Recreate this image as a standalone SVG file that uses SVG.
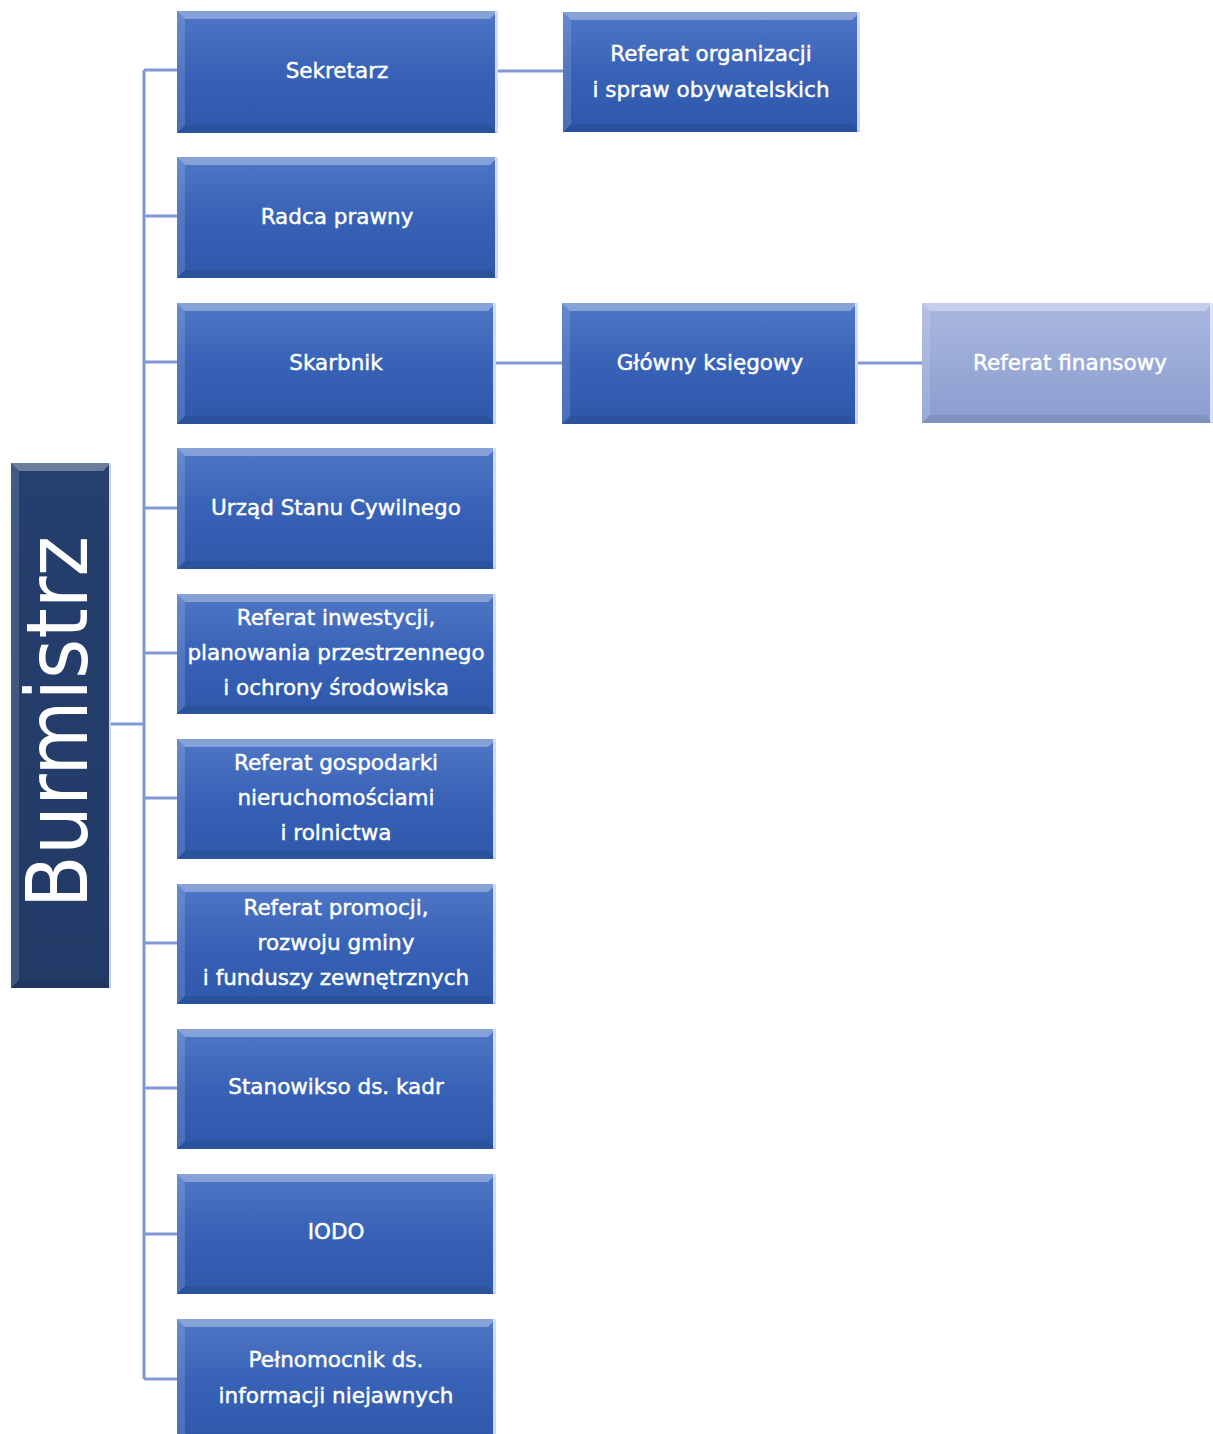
<svg xmlns="http://www.w3.org/2000/svg" width="1213" height="1434" viewBox="0 0 1213 1434">
<style>
.t{font-family:"DejaVu Sans","Liberation Sans",sans-serif;font-size:21.5px;fill:#ffffff;stroke:#ffffff;stroke-width:0.45;text-anchor:middle}
.big{font-family:"DejaVu Sans Condensed","DejaVu Sans",sans-serif;font-size:86px;fill:#ffffff;text-anchor:middle}
.c{stroke:#8199d3;stroke-width:3;fill:none}
.hi{fill:#ffffff;opacity:0.32}
.lf{fill:#ffffff;opacity:0.14}
.rt{fill:#e6eeff;opacity:0.85}
.bt{fill:#000000;opacity:0.08}
</style>
<defs>
<linearGradient id="gb" x1="0" y1="0" x2="0" y2="1">
<stop offset="0" stop-color="#4f77c6"/>
<stop offset="0.5" stop-color="#3862b6"/>
<stop offset="1" stop-color="#2d58aa"/>
</linearGradient>
<linearGradient id="gl" x1="0" y1="0" x2="0" y2="1">
<stop offset="0" stop-color="#aab7e0"/>
<stop offset="1" stop-color="#8a9dcf"/>
</linearGradient>
<linearGradient id="gd" x1="0" y1="0" x2="0" y2="1">
<stop offset="0" stop-color="#253f6e"/>
<stop offset="1" stop-color="#223a66"/>
</linearGradient>
</defs>

<g id="connectors">
<path class="c" d="M144,70 V1379"/>
<path class="c" d="M111,724 H144"/>
<path class="c" d="M144,70 H177 M144,216 H177 M144,362 H177 M144,508 H177 M144,653 H177 M144,798 H177 M144,943 H177 M144,1088 H177 M144,1234 H177 M144,1379 H177"/>
<path class="c" d="M498,71 H563"/>
<path class="c" d="M496,363 H562"/>
<path class="c" d="M858,363 H922"/>
</g>

<g id="burmistrz" transform="translate(11,463)">
<rect width="100" height="525" fill="url(#gd)"/>
<polygon class="hi" points="0,0 100,0 92,8 8,8"/>
<polygon class="lf" points="0,0 8,8 8,517 0,525"/>
<polygon class="rt" points="98,0 100,0 100,525 98,525"/>
<polygon class="bt" points="0,525 8,517 92,517 100,525"/>
<text class="big" transform="translate(76,259) rotate(-90)">Burmistrz</text>
</g>

<g id="sekretarz" transform="translate(177,11)">
<rect width="321" height="122" fill="url(#gb)"/>
<polygon class="hi" points="0,0 321,0 313,8 8,8"/>
<polygon class="lf" points="0,0 8,8 8,114 0,122"/>
<polygon class="rt" points="318,0 321,0 321,122 318,122"/>
<polygon class="bt" points="0,122 8,114 313,114 321,122"/>
<text class="t" x="160" y="67">Sekretarz</text>
</g>

<g id="radca" transform="translate(177,157)">
<rect width="321" height="121" fill="url(#gb)"/>
<polygon class="hi" points="0,0 321,0 313,8 8,8"/>
<polygon class="lf" points="0,0 8,8 8,113 0,121"/>
<polygon class="rt" points="318,0 321,0 321,121 318,121"/>
<polygon class="bt" points="0,121 8,113 313,113 321,121"/>
<text class="t" x="160" y="67">Radca prawny</text>
</g>

<g id="skarbnik" transform="translate(177,303)">
<rect width="319" height="121" fill="url(#gb)"/>
<polygon class="hi" points="0,0 319,0 311,8 8,8"/>
<polygon class="lf" points="0,0 8,8 8,113 0,121"/>
<polygon class="rt" points="316,0 319,0 319,121 316,121"/>
<polygon class="bt" points="0,121 8,113 311,113 319,121"/>
<text class="t" x="159" y="67">Skarbnik</text>
</g>

<g id="usc" transform="translate(177,448)">
<rect width="319" height="121" fill="url(#gb)"/>
<polygon class="hi" points="0,0 319,0 311,8 8,8"/>
<polygon class="lf" points="0,0 8,8 8,113 0,121"/>
<polygon class="rt" points="316,0 319,0 319,121 316,121"/>
<polygon class="bt" points="0,121 8,113 311,113 319,121"/>
<text class="t" x="159" y="67">Urząd Stanu Cywilnego</text>
</g>

<g id="inwestycje" transform="translate(177,594)">
<rect width="319" height="120" fill="url(#gb)"/>
<polygon class="hi" points="0,0 319,0 311,8 8,8"/>
<polygon class="lf" points="0,0 8,8 8,112 0,120"/>
<polygon class="rt" points="316,0 319,0 319,120 316,120"/>
<polygon class="bt" points="0,120 8,112 311,112 319,120"/>
<text class="t" x="159" y="31">Referat inwestycji,</text>
<text class="t" x="159" y="66">planowania przestrzennego</text>
<text class="t" x="159" y="101">i ochrony środowiska</text>
</g>

<g id="nieruchomosci" transform="translate(177,739)">
<rect width="319" height="120" fill="url(#gb)"/>
<polygon class="hi" points="0,0 319,0 311,8 8,8"/>
<polygon class="lf" points="0,0 8,8 8,112 0,120"/>
<polygon class="rt" points="316,0 319,0 319,120 316,120"/>
<polygon class="bt" points="0,120 8,112 311,112 319,120"/>
<text class="t" x="159" y="31">Referat gospodarki</text>
<text class="t" x="159" y="66">nieruchomościami</text>
<text class="t" x="159" y="101">i rolnictwa</text>
</g>

<g id="promocja" transform="translate(177,884)">
<rect width="319" height="120" fill="url(#gb)"/>
<polygon class="hi" points="0,0 319,0 311,8 8,8"/>
<polygon class="lf" points="0,0 8,8 8,112 0,120"/>
<polygon class="rt" points="316,0 319,0 319,120 316,120"/>
<polygon class="bt" points="0,120 8,112 311,112 319,120"/>
<text class="t" x="159" y="31">Referat promocji,</text>
<text class="t" x="159" y="66">rozwoju gminy</text>
<text class="t" x="159" y="101">i funduszy zewnętrznych</text>
</g>

<g id="kadry" transform="translate(177,1029)">
<rect width="319" height="120" fill="url(#gb)"/>
<polygon class="hi" points="0,0 319,0 311,8 8,8"/>
<polygon class="lf" points="0,0 8,8 8,112 0,120"/>
<polygon class="rt" points="316,0 319,0 319,120 316,120"/>
<polygon class="bt" points="0,120 8,112 311,112 319,120"/>
<text class="t" x="159" y="65">Stanowikso ds. kadr</text>
</g>

<g id="iodo" transform="translate(177,1174)">
<rect width="319" height="120" fill="url(#gb)"/>
<polygon class="hi" points="0,0 319,0 311,8 8,8"/>
<polygon class="lf" points="0,0 8,8 8,112 0,120"/>
<polygon class="rt" points="316,0 319,0 319,120 316,120"/>
<polygon class="bt" points="0,120 8,112 311,112 319,120"/>
<text class="t" x="159" y="65">IODO</text>
</g>

<g id="pelnomocnik" transform="translate(177,1319)">
<rect width="319" height="125" fill="url(#gb)"/>
<polygon class="hi" points="0,0 319,0 311,8 8,8"/>
<polygon class="lf" points="0,0 8,8 8,125 0,125"/>
<polygon class="rt" points="316,0 319,0 319,125 316,125"/>
<text class="t" x="159" y="48">Pełnomocnik ds.</text>
<text class="t" x="159" y="84">informacji niejawnych</text>
</g>

<g id="referat-organizacji" transform="translate(563,12)">
<rect width="297" height="120" fill="url(#gb)"/>
<polygon class="hi" points="0,0 297,0 289,8 8,8"/>
<polygon class="lf" points="0,0 8,8 8,112 0,120"/>
<polygon class="rt" points="294,0 297,0 297,120 294,120"/>
<polygon class="bt" points="0,120 8,112 289,112 297,120"/>
<text class="t" x="148" y="49">Referat organizacji</text>
<text class="t" x="148" y="85">i spraw obywatelskich</text>
</g>

<g id="glowny-ksiegowy" transform="translate(562,303)">
<rect width="296" height="121" fill="url(#gb)"/>
<polygon class="hi" points="0,0 296,0 288,8 8,8"/>
<polygon class="lf" points="0,0 8,8 8,113 0,121"/>
<polygon class="rt" points="293,0 296,0 296,121 293,121"/>
<polygon class="bt" points="0,121 8,113 288,113 296,121"/>
<text class="t" x="148" y="67">Główny księgowy</text>
</g>

<g id="referat-finansowy" transform="translate(922,303)">
<rect width="291" height="120" fill="url(#gl)"/>
<polygon class="hi" points="0,0 291,0 283,8 8,8"/>
<polygon class="lf" points="0,0 8,8 8,112 0,120"/>
<polygon class="rt" points="288,0 291,0 291,120 288,120"/>
<polygon class="bt" points="0,120 8,112 283,112 291,120"/>
<text class="t" x="148" y="67">Referat finansowy</text>
</g>
</svg>
